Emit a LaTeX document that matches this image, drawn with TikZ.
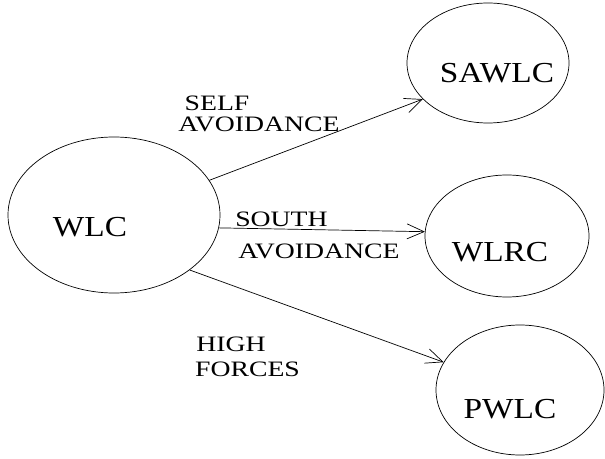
\documentclass[tikz,border=0pt]{standalone}
\usepackage{fontspec}
\setmainfont{Liberation Serif}
\usetikzlibrary{shapes.geometric,arrows.meta}
\newcommand{\LblTxt}[1]{\scalebox{1.26}[1]{#1}}
\newcommand{\NdTxt}[1]{\scalebox{1.15}[1]{#1}}
\begin{document}
\begin{tikzpicture}[x=1pt,y=1pt,
  oval/.style={ellipse,draw,line width=0.7pt,inner sep=0pt},
  ntext/.style={font=\fontsize{29}{32}\selectfont,inner sep=0pt},
  lbl/.style={font=\fontsize{22}{26}\selectfont,inner sep=0pt},
  conn/.style={line width=0.7pt,-{Straight Barb[length=17pt,width=15pt,line width=0.7pt]}}]
\useasboundingbox (0,0) rectangle (605,458);
% ellipses
\node[oval,minimum width=212pt,minimum height=156pt] (WLC) at (114,243) {};
\node[oval,minimum width=162pt,minimum height=120pt] (SAWLC) at (488,395) {};
\node[oval,minimum width=164pt,minimum height=122pt] (WLRC) at (507,222) {};
\node[oval,minimum width=168pt,minimum height=130pt] (PWLC) at (520,68) {};
% node texts
\node[ntext] (tWLC) at (90,231) {\NdTxt{WLC}};
\node[ntext] (tSAWLC) at (497,385) {\NdTxt{SAWLC}};
\node[ntext] (tWLRC) at (500,206) {\NdTxt{WLRC}};
\node[ntext] (tPWLC) at (510,49) {\NdTxt{PWLC}};
% connectors
\draw[conn] (WLC.20.6) -- (SAWLC.209.6);
\draw[conn] (WLC.-7) -- (WLRC.177);
\draw[conn] (WLC.-36.9) -- (PWLC.160.7);
% labels
\node[lbl] (l1a) at (217,354.5) {\LblTxt{SELF}};
\node[lbl] (l1b) at (259,333.5) {\LblTxt{AVOIDANCE}};
\node[lbl] (l2a) at (281.5,239) {\LblTxt{SOUTH}};
\node[lbl] (l2b) at (319,206.5) {\LblTxt{AVOIDANCE}};
\node[lbl] (l3a) at (231,113.5) {\LblTxt{HIGH}};
\node[lbl] (l3b) at (247.5,88.5) {\LblTxt{FORCES}};
\end{tikzpicture}
\end{document}
